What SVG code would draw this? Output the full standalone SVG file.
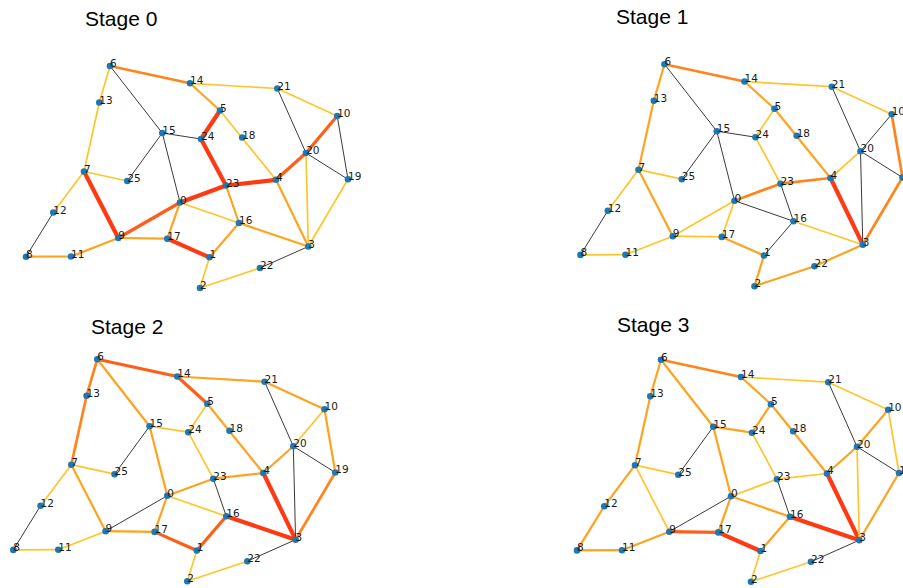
<svg xmlns="http://www.w3.org/2000/svg" width="903" height="588" viewBox="0 0 903 588">
<style>
.t{font-family:"Liberation Sans",Arial,sans-serif;font-size:21px;fill:#000}
.edges line{fill:none;stroke-linecap:butt}
.k{stroke:#3a3a3a;stroke-width:1}
.y{stroke:#ffc52a;stroke-width:1.7}
.o{stroke:#ffa31f;stroke-width:2.2}
.o2{stroke:#ff841c;stroke-width:2.7}
.r1{stroke:#ff5e18;stroke-width:3.2}
.r{stroke:#ff3a12;stroke-width:4.2}
.node circle{fill:#1f77b4}
.node text{font-family:"DejaVu Sans",sans-serif;font-size:10.5px;fill:#1a1a1a}
</style>
<rect width="903" height="588" fill="#fff"/>
<text class="t" x="85" y="25.5">Stage 0</text>
<text class="t" x="616" y="23.5">Stage 1</text>
<text class="t" x="91" y="334">Stage 2</text>
<text class="t" x="617" y="332">Stage 3</text>

<g id="stage0" transform="translate(0,0)">
<g id="s0-edges" class="edges">
<line class="o2" x1="110" y1="66" x2="190" y2="83.3"/>
<line class="y" x1="110" y1="66" x2="99.3" y2="102.5"/>
<line class="k" x1="110" y1="66" x2="162.3" y2="133"/>
<line class="y" x1="190" y1="83.3" x2="277.3" y2="88.5"/>
<line class="o" x1="190" y1="83.3" x2="220" y2="110.5"/>
<line class="y" x1="99.3" y1="102.5" x2="84" y2="171.5"/>
<line class="r" x1="220" y1="110.5" x2="201" y2="139"/>
<line class="y" x1="220" y1="110.5" x2="276" y2="179.8"/>
<line class="k" x1="162.3" y1="133" x2="201" y2="139"/>
<line class="k" x1="162.3" y1="133" x2="127.3" y2="181"/>
<line class="k" x1="162.3" y1="133" x2="180" y2="202.5"/>
<line class="r" x1="201" y1="139" x2="226" y2="185.5"/>
<line class="y" x1="84" y1="171.5" x2="127.3" y2="181"/>
<line class="y" x1="84" y1="171.5" x2="53.3" y2="212.5"/>
<line class="r" x1="84" y1="171.5" x2="118.3" y2="238"/>
<line class="k" x1="53.3" y1="212.5" x2="26" y2="256.7"/>
<line class="o" x1="26" y1="256.7" x2="71" y2="256.5"/>
<line class="o" x1="71" y1="256.5" x2="118.3" y2="238"/>
<line class="r1" x1="118.3" y1="238" x2="180" y2="202.5"/>
<line class="o" x1="118.3" y1="238" x2="167.3" y2="238.7"/>
<line class="r" x1="180" y1="202.5" x2="226" y2="185.5"/>
<line class="o" x1="180" y1="202.5" x2="167.3" y2="238.7"/>
<line class="y" x1="180" y1="202.5" x2="239" y2="223"/>
<line class="r" x1="167.3" y1="238.7" x2="209.5" y2="257.3"/>
<line class="y" x1="209.5" y1="257.3" x2="200" y2="288"/>
<line class="o" x1="209.5" y1="257.3" x2="239" y2="223"/>
<line class="y" x1="200" y1="288" x2="260" y2="268"/>
<line class="k" x1="260" y1="268" x2="308.3" y2="246.5"/>
<line class="o" x1="226" y1="185.5" x2="239" y2="223"/>
<line class="r" x1="226" y1="185.5" x2="276" y2="179.8"/>
<line class="r1" x1="276" y1="179.8" x2="306" y2="153"/>
<line class="o" x1="276" y1="179.8" x2="308.3" y2="246.5"/>
<line class="o" x1="239" y1="223" x2="308.3" y2="246.5"/>
<line class="k" x1="277.3" y1="88.5" x2="306" y2="153"/>
<line class="y" x1="277.3" y1="88.5" x2="337.2" y2="116"/>
<line class="r1" x1="306" y1="153" x2="337.2" y2="116"/>
<line class="k" x1="306" y1="153" x2="348" y2="179.3"/>
<line class="y" x1="306" y1="153" x2="308.3" y2="246.5"/>
<line class="k" x1="337.2" y1="116" x2="348" y2="179.3"/>
<line class="y" x1="348" y1="179.3" x2="308.3" y2="246.5"/>
</g>
<g id="s0-n0" class="node"><circle cx="180" cy="202.5" r="3.3"/><text x="180" y="203.5">0</text></g>
<g id="s0-n1" class="node"><circle cx="209.5" cy="257.3" r="3.3"/><text x="209.5" y="258.3">1</text></g>
<g id="s0-n2" class="node"><circle cx="200" cy="288" r="3.3"/><text x="200" y="289">2</text></g>
<g id="s0-n3" class="node"><circle cx="308.3" cy="246.5" r="3.3"/><text x="308.3" y="247.5">3</text></g>
<g id="s0-n4" class="node"><circle cx="276" cy="179.8" r="3.3"/><text x="276" y="180.8">4</text></g>
<g id="s0-n5" class="node"><circle cx="220" cy="110.5" r="3.3"/><text x="220" y="111.5">5</text></g>
<g id="s0-n6" class="node"><circle cx="110" cy="66" r="3.3"/><text x="110" y="67">6</text></g>
<g id="s0-n7" class="node"><circle cx="84" cy="171.5" r="3.3"/><text x="84" y="172.5">7</text></g>
<g id="s0-n8" class="node"><circle cx="26" cy="256.7" r="3.3"/><text x="26" y="257.7">8</text></g>
<g id="s0-n9" class="node"><circle cx="118.3" cy="238" r="3.3"/><text x="118.3" y="239">9</text></g>
<g id="s0-n10" class="node"><circle cx="337.2" cy="116" r="3.3"/><text x="337.2" y="117">10</text></g>
<g id="s0-n11" class="node"><circle cx="71" cy="256.5" r="3.3"/><text x="71" y="257.5">11</text></g>
<g id="s0-n12" class="node"><circle cx="53.3" cy="212.5" r="3.3"/><text x="53.3" y="213.5">12</text></g>
<g id="s0-n13" class="node"><circle cx="99.3" cy="102.5" r="3.3"/><text x="99.3" y="103.5">13</text></g>
<g id="s0-n14" class="node"><circle cx="190" cy="83.3" r="3.3"/><text x="190" y="84.3">14</text></g>
<g id="s0-n15" class="node"><circle cx="162.3" cy="133" r="3.3"/><text x="162.3" y="134">15</text></g>
<g id="s0-n16" class="node"><circle cx="239" cy="223" r="3.3"/><text x="239" y="224">16</text></g>
<g id="s0-n17" class="node"><circle cx="167.3" cy="238.7" r="3.3"/><text x="167.3" y="239.7">17</text></g>
<g id="s0-n18" class="node"><circle cx="242.2" cy="137.5" r="3.3"/><text x="242.2" y="138.5">18</text></g>
<g id="s0-n19" class="node"><circle cx="348" cy="179.3" r="3.3"/><text x="348" y="180.3">19</text></g>
<g id="s0-n20" class="node"><circle cx="306" cy="153" r="3.3"/><text x="306" y="154">20</text></g>
<g id="s0-n21" class="node"><circle cx="277.3" cy="88.5" r="3.3"/><text x="277.3" y="89.5">21</text></g>
<g id="s0-n22" class="node"><circle cx="260" cy="268" r="3.3"/><text x="260" y="269">22</text></g>
<g id="s0-n23" class="node"><circle cx="226" cy="185.5" r="3.3"/><text x="226" y="186.5">23</text></g>
<g id="s0-n24" class="node"><circle cx="201" cy="139" r="3.3"/><text x="201" y="140">24</text></g>
<g id="s0-n25" class="node"><circle cx="127.3" cy="181" r="3.3"/><text x="127.3" y="182">25</text></g>
</g>

<g id="stage1" transform="translate(554.5,-1.8)">
<g id="s1-edges" class="edges">
<line class="o2" x1="110" y1="66" x2="190" y2="83.3"/>
<line class="o" x1="110" y1="66" x2="99.3" y2="102.5"/>
<line class="k" x1="110" y1="66" x2="162.3" y2="133"/>
<line class="y" x1="190" y1="83.3" x2="277.3" y2="88.5"/>
<line class="o" x1="190" y1="83.3" x2="220" y2="110.5"/>
<line class="o" x1="99.3" y1="102.5" x2="84" y2="171.5"/>
<line class="y" x1="220" y1="110.5" x2="201" y2="139"/>
<line class="o" x1="220" y1="110.5" x2="276" y2="179.8"/>
<line class="k" x1="162.3" y1="133" x2="201" y2="139"/>
<line class="k" x1="162.3" y1="133" x2="127.3" y2="181"/>
<line class="k" x1="162.3" y1="133" x2="180" y2="202.5"/>
<line class="y" x1="201" y1="139" x2="226" y2="185.5"/>
<line class="y" x1="84" y1="171.5" x2="127.3" y2="181"/>
<line class="y" x1="84" y1="171.5" x2="53.3" y2="212.5"/>
<line class="o" x1="84" y1="171.5" x2="118.3" y2="238"/>
<line class="k" x1="53.3" y1="212.5" x2="26" y2="256.7"/>
<line class="y" x1="26" y1="256.7" x2="71" y2="256.5"/>
<line class="y" x1="71" y1="256.5" x2="118.3" y2="238"/>
<line class="y" x1="118.3" y1="238" x2="180" y2="202.5"/>
<line class="y" x1="118.3" y1="238" x2="167.3" y2="238.7"/>
<line class="o2" x1="180" y1="202.5" x2="226" y2="185.5"/>
<line class="y" x1="180" y1="202.5" x2="167.3" y2="238.7"/>
<line class="k" x1="180" y1="202.5" x2="239" y2="223"/>
<line class="o" x1="167.3" y1="238.7" x2="209.5" y2="257.3"/>
<line class="o" x1="209.5" y1="257.3" x2="200" y2="288"/>
<line class="k" x1="209.5" y1="257.3" x2="239" y2="223"/>
<line class="o" x1="200" y1="288" x2="260" y2="268"/>
<line class="o" x1="260" y1="268" x2="308.3" y2="246.5"/>
<line class="k" x1="226" y1="185.5" x2="239" y2="223"/>
<line class="o2" x1="226" y1="185.5" x2="276" y2="179.8"/>
<line class="y" x1="276" y1="179.8" x2="306" y2="153"/>
<line class="r" x1="276" y1="179.8" x2="308.3" y2="246.5"/>
<line class="y" x1="239" y1="223" x2="308.3" y2="246.5"/>
<line class="k" x1="277.3" y1="88.5" x2="306" y2="153"/>
<line class="y" x1="277.3" y1="88.5" x2="337.2" y2="116"/>
<line class="k" x1="306" y1="153" x2="337.2" y2="116"/>
<line class="k" x1="306" y1="153" x2="348" y2="179.3"/>
<line class="k" x1="306" y1="153" x2="308.3" y2="246.5"/>
<line class="o2" x1="337.2" y1="116" x2="348" y2="179.3"/>
<line class="o2" x1="348" y1="179.3" x2="308.3" y2="246.5"/>
</g>
<g id="s1-n0" class="node"><circle cx="180" cy="202.5" r="3.3"/><text x="180" y="203.5">0</text></g>
<g id="s1-n1" class="node"><circle cx="209.5" cy="257.3" r="3.3"/><text x="209.5" y="258.3">1</text></g>
<g id="s1-n2" class="node"><circle cx="200" cy="288" r="3.3"/><text x="200" y="289">2</text></g>
<g id="s1-n3" class="node"><circle cx="308.3" cy="246.5" r="3.3"/><text x="308.3" y="247.5">3</text></g>
<g id="s1-n4" class="node"><circle cx="276" cy="179.8" r="3.3"/><text x="276" y="180.8">4</text></g>
<g id="s1-n5" class="node"><circle cx="220" cy="110.5" r="3.3"/><text x="220" y="111.5">5</text></g>
<g id="s1-n6" class="node"><circle cx="110" cy="66" r="3.3"/><text x="110" y="67">6</text></g>
<g id="s1-n7" class="node"><circle cx="84" cy="171.5" r="3.3"/><text x="84" y="172.5">7</text></g>
<g id="s1-n8" class="node"><circle cx="26" cy="256.7" r="3.3"/><text x="26" y="257.7">8</text></g>
<g id="s1-n9" class="node"><circle cx="118.3" cy="238" r="3.3"/><text x="118.3" y="239">9</text></g>
<g id="s1-n10" class="node"><circle cx="337.2" cy="116" r="3.3"/><text x="337.2" y="117">10</text></g>
<g id="s1-n11" class="node"><circle cx="71" cy="256.5" r="3.3"/><text x="71" y="257.5">11</text></g>
<g id="s1-n12" class="node"><circle cx="53.3" cy="212.5" r="3.3"/><text x="53.3" y="213.5">12</text></g>
<g id="s1-n13" class="node"><circle cx="99.3" cy="102.5" r="3.3"/><text x="99.3" y="103.5">13</text></g>
<g id="s1-n14" class="node"><circle cx="190" cy="83.3" r="3.3"/><text x="190" y="84.3">14</text></g>
<g id="s1-n15" class="node"><circle cx="162.3" cy="133" r="3.3"/><text x="162.3" y="134">15</text></g>
<g id="s1-n16" class="node"><circle cx="239" cy="223" r="3.3"/><text x="239" y="224">16</text></g>
<g id="s1-n17" class="node"><circle cx="167.3" cy="238.7" r="3.3"/><text x="167.3" y="239.7">17</text></g>
<g id="s1-n18" class="node"><circle cx="242.2" cy="137.5" r="3.3"/><text x="242.2" y="138.5">18</text></g>
<g id="s1-n19" class="node"><circle cx="348" cy="179.3" r="3.3"/><text x="348" y="180.3">19</text></g>
<g id="s1-n20" class="node"><circle cx="306" cy="153" r="3.3"/><text x="306" y="154">20</text></g>
<g id="s1-n21" class="node"><circle cx="277.3" cy="88.5" r="3.3"/><text x="277.3" y="89.5">21</text></g>
<g id="s1-n22" class="node"><circle cx="260" cy="268" r="3.3"/><text x="260" y="269">22</text></g>
<g id="s1-n23" class="node"><circle cx="226" cy="185.5" r="3.3"/><text x="226" y="186.5">23</text></g>
<g id="s1-n24" class="node"><circle cx="201" cy="139" r="3.3"/><text x="201" y="140">24</text></g>
<g id="s1-n25" class="node"><circle cx="127.3" cy="181" r="3.3"/><text x="127.3" y="182">25</text></g>
</g>

<g id="stage2" transform="translate(-12.7,293.2)">
<g id="s2-edges" class="edges">
<line class="r1" x1="110" y1="66" x2="190" y2="83.3"/>
<line class="o2" x1="110" y1="66" x2="99.3" y2="102.5"/>
<line class="o" x1="110" y1="66" x2="162.3" y2="133"/>
<line class="o" x1="190" y1="83.3" x2="277.3" y2="88.5"/>
<line class="r1" x1="190" y1="83.3" x2="220" y2="110.5"/>
<line class="o2" x1="99.3" y1="102.5" x2="84" y2="171.5"/>
<line class="y" x1="220" y1="110.5" x2="201" y2="139"/>
<line class="o" x1="220" y1="110.5" x2="276" y2="179.8"/>
<line class="y" x1="162.3" y1="133" x2="201" y2="139"/>
<line class="k" x1="162.3" y1="133" x2="127.3" y2="181"/>
<line class="o" x1="162.3" y1="133" x2="180" y2="202.5"/>
<line class="y" x1="201" y1="139" x2="226" y2="185.5"/>
<line class="y" x1="84" y1="171.5" x2="127.3" y2="181"/>
<line class="y" x1="84" y1="171.5" x2="53.3" y2="212.5"/>
<line class="o" x1="84" y1="171.5" x2="118.3" y2="238"/>
<line class="k" x1="53.3" y1="212.5" x2="26" y2="256.7"/>
<line class="y" x1="26" y1="256.7" x2="71" y2="256.5"/>
<line class="y" x1="71" y1="256.5" x2="118.3" y2="238"/>
<line class="k" x1="118.3" y1="238" x2="180" y2="202.5"/>
<line class="o" x1="118.3" y1="238" x2="167.3" y2="238.7"/>
<line class="o" x1="180" y1="202.5" x2="226" y2="185.5"/>
<line class="o" x1="180" y1="202.5" x2="167.3" y2="238.7"/>
<line class="y" x1="180" y1="202.5" x2="239" y2="223"/>
<line class="r1" x1="167.3" y1="238.7" x2="209.5" y2="257.3"/>
<line class="y" x1="209.5" y1="257.3" x2="200" y2="288"/>
<line class="r1" x1="209.5" y1="257.3" x2="239" y2="223"/>
<line class="y" x1="200" y1="288" x2="260" y2="268"/>
<line class="k" x1="260" y1="268" x2="308.3" y2="246.5"/>
<line class="k" x1="226" y1="185.5" x2="239" y2="223"/>
<line class="o" x1="226" y1="185.5" x2="276" y2="179.8"/>
<line class="o" x1="276" y1="179.8" x2="306" y2="153"/>
<line class="r" x1="276" y1="179.8" x2="308.3" y2="246.5"/>
<line class="r" x1="239" y1="223" x2="308.3" y2="246.5"/>
<line class="k" x1="277.3" y1="88.5" x2="306" y2="153"/>
<line class="o" x1="277.3" y1="88.5" x2="337.2" y2="116"/>
<line class="y" x1="306" y1="153" x2="337.2" y2="116"/>
<line class="k" x1="306" y1="153" x2="348" y2="179.3"/>
<line class="k" x1="306" y1="153" x2="308.3" y2="246.5"/>
<line class="o" x1="337.2" y1="116" x2="348" y2="179.3"/>
<line class="o2" x1="348" y1="179.3" x2="308.3" y2="246.5"/>
</g>
<g id="s2-n0" class="node"><circle cx="180" cy="202.5" r="3.3"/><text x="180" y="203.5">0</text></g>
<g id="s2-n1" class="node"><circle cx="209.5" cy="257.3" r="3.3"/><text x="209.5" y="258.3">1</text></g>
<g id="s2-n2" class="node"><circle cx="200" cy="288" r="3.3"/><text x="200" y="289">2</text></g>
<g id="s2-n3" class="node"><circle cx="308.3" cy="246.5" r="3.3"/><text x="308.3" y="247.5">3</text></g>
<g id="s2-n4" class="node"><circle cx="276" cy="179.8" r="3.3"/><text x="276" y="180.8">4</text></g>
<g id="s2-n5" class="node"><circle cx="220" cy="110.5" r="3.3"/><text x="220" y="111.5">5</text></g>
<g id="s2-n6" class="node"><circle cx="110" cy="66" r="3.3"/><text x="110" y="67">6</text></g>
<g id="s2-n7" class="node"><circle cx="84" cy="171.5" r="3.3"/><text x="84" y="172.5">7</text></g>
<g id="s2-n8" class="node"><circle cx="26" cy="256.7" r="3.3"/><text x="26" y="257.7">8</text></g>
<g id="s2-n9" class="node"><circle cx="118.3" cy="238" r="3.3"/><text x="118.3" y="239">9</text></g>
<g id="s2-n10" class="node"><circle cx="337.2" cy="116" r="3.3"/><text x="337.2" y="117">10</text></g>
<g id="s2-n11" class="node"><circle cx="71" cy="256.5" r="3.3"/><text x="71" y="257.5">11</text></g>
<g id="s2-n12" class="node"><circle cx="53.3" cy="212.5" r="3.3"/><text x="53.3" y="213.5">12</text></g>
<g id="s2-n13" class="node"><circle cx="99.3" cy="102.5" r="3.3"/><text x="99.3" y="103.5">13</text></g>
<g id="s2-n14" class="node"><circle cx="190" cy="83.3" r="3.3"/><text x="190" y="84.3">14</text></g>
<g id="s2-n15" class="node"><circle cx="162.3" cy="133" r="3.3"/><text x="162.3" y="134">15</text></g>
<g id="s2-n16" class="node"><circle cx="239" cy="223" r="3.3"/><text x="239" y="224">16</text></g>
<g id="s2-n17" class="node"><circle cx="167.3" cy="238.7" r="3.3"/><text x="167.3" y="239.7">17</text></g>
<g id="s2-n18" class="node"><circle cx="242.2" cy="137.5" r="3.3"/><text x="242.2" y="138.5">18</text></g>
<g id="s2-n19" class="node"><circle cx="348" cy="179.3" r="3.3"/><text x="348" y="180.3">19</text></g>
<g id="s2-n20" class="node"><circle cx="306" cy="153" r="3.3"/><text x="306" y="154">20</text></g>
<g id="s2-n21" class="node"><circle cx="277.3" cy="88.5" r="3.3"/><text x="277.3" y="89.5">21</text></g>
<g id="s2-n22" class="node"><circle cx="260" cy="268" r="3.3"/><text x="260" y="269">22</text></g>
<g id="s2-n23" class="node"><circle cx="226" cy="185.5" r="3.3"/><text x="226" y="186.5">23</text></g>
<g id="s2-n24" class="node"><circle cx="201" cy="139" r="3.3"/><text x="201" y="140">24</text></g>
<g id="s2-n25" class="node"><circle cx="127.3" cy="181" r="3.3"/><text x="127.3" y="182">25</text></g>
</g>

<g id="stage3" transform="translate(551,293.7)">
<g id="s3-edges" class="edges">
<line class="o2" x1="110" y1="66" x2="190" y2="83.3"/>
<line class="o" x1="110" y1="66" x2="99.3" y2="102.5"/>
<line class="o" x1="110" y1="66" x2="162.3" y2="133"/>
<line class="y" x1="190" y1="83.3" x2="277.3" y2="88.5"/>
<line class="o" x1="190" y1="83.3" x2="220" y2="110.5"/>
<line class="o" x1="99.3" y1="102.5" x2="84" y2="171.5"/>
<line class="o" x1="220" y1="110.5" x2="201" y2="139"/>
<line class="o" x1="220" y1="110.5" x2="276" y2="179.8"/>
<line class="o" x1="162.3" y1="133" x2="201" y2="139"/>
<line class="k" x1="162.3" y1="133" x2="127.3" y2="181"/>
<line class="o" x1="162.3" y1="133" x2="180" y2="202.5"/>
<line class="y" x1="201" y1="139" x2="226" y2="185.5"/>
<line class="y" x1="84" y1="171.5" x2="127.3" y2="181"/>
<line class="o" x1="84" y1="171.5" x2="53.3" y2="212.5"/>
<line class="y" x1="84" y1="171.5" x2="118.3" y2="238"/>
<line class="o" x1="53.3" y1="212.5" x2="26" y2="256.7"/>
<line class="o" x1="26" y1="256.7" x2="71" y2="256.5"/>
<line class="o" x1="71" y1="256.5" x2="118.3" y2="238"/>
<line class="k" x1="118.3" y1="238" x2="180" y2="202.5"/>
<line class="r1" x1="118.3" y1="238" x2="167.3" y2="238.7"/>
<line class="y" x1="180" y1="202.5" x2="226" y2="185.5"/>
<line class="o" x1="180" y1="202.5" x2="167.3" y2="238.7"/>
<line class="o" x1="180" y1="202.5" x2="239" y2="223"/>
<line class="r" x1="167.3" y1="238.7" x2="209.5" y2="257.3"/>
<line class="y" x1="209.5" y1="257.3" x2="200" y2="288"/>
<line class="o" x1="209.5" y1="257.3" x2="239" y2="223"/>
<line class="y" x1="200" y1="288" x2="260" y2="268"/>
<line class="k" x1="260" y1="268" x2="308.3" y2="246.5"/>
<line class="k" x1="226" y1="185.5" x2="239" y2="223"/>
<line class="y" x1="226" y1="185.5" x2="276" y2="179.8"/>
<line class="o" x1="276" y1="179.8" x2="306" y2="153"/>
<line class="r" x1="276" y1="179.8" x2="308.3" y2="246.5"/>
<line class="r" x1="239" y1="223" x2="308.3" y2="246.5"/>
<line class="k" x1="277.3" y1="88.5" x2="306" y2="153"/>
<line class="y" x1="277.3" y1="88.5" x2="337.2" y2="116"/>
<line class="o" x1="306" y1="153" x2="337.2" y2="116"/>
<line class="k" x1="306" y1="153" x2="348" y2="179.3"/>
<line class="y" x1="306" y1="153" x2="308.3" y2="246.5"/>
<line class="y" x1="337.2" y1="116" x2="348" y2="179.3"/>
<line class="o" x1="348" y1="179.3" x2="308.3" y2="246.5"/>
</g>
<g id="s3-n0" class="node"><circle cx="180" cy="202.5" r="3.3"/><text x="180" y="203.5">0</text></g>
<g id="s3-n1" class="node"><circle cx="209.5" cy="257.3" r="3.3"/><text x="209.5" y="258.3">1</text></g>
<g id="s3-n2" class="node"><circle cx="200" cy="288" r="3.3"/><text x="200" y="289">2</text></g>
<g id="s3-n3" class="node"><circle cx="308.3" cy="246.5" r="3.3"/><text x="308.3" y="247.5">3</text></g>
<g id="s3-n4" class="node"><circle cx="276" cy="179.8" r="3.3"/><text x="276" y="180.8">4</text></g>
<g id="s3-n5" class="node"><circle cx="220" cy="110.5" r="3.3"/><text x="220" y="111.5">5</text></g>
<g id="s3-n6" class="node"><circle cx="110" cy="66" r="3.3"/><text x="110" y="67">6</text></g>
<g id="s3-n7" class="node"><circle cx="84" cy="171.5" r="3.3"/><text x="84" y="172.5">7</text></g>
<g id="s3-n8" class="node"><circle cx="26" cy="256.7" r="3.3"/><text x="26" y="257.7">8</text></g>
<g id="s3-n9" class="node"><circle cx="118.3" cy="238" r="3.3"/><text x="118.3" y="239">9</text></g>
<g id="s3-n10" class="node"><circle cx="337.2" cy="116" r="3.3"/><text x="337.2" y="117">10</text></g>
<g id="s3-n11" class="node"><circle cx="71" cy="256.5" r="3.3"/><text x="71" y="257.5">11</text></g>
<g id="s3-n12" class="node"><circle cx="53.3" cy="212.5" r="3.3"/><text x="53.3" y="213.5">12</text></g>
<g id="s3-n13" class="node"><circle cx="99.3" cy="102.5" r="3.3"/><text x="99.3" y="103.5">13</text></g>
<g id="s3-n14" class="node"><circle cx="190" cy="83.3" r="3.3"/><text x="190" y="84.3">14</text></g>
<g id="s3-n15" class="node"><circle cx="162.3" cy="133" r="3.3"/><text x="162.3" y="134">15</text></g>
<g id="s3-n16" class="node"><circle cx="239" cy="223" r="3.3"/><text x="239" y="224">16</text></g>
<g id="s3-n17" class="node"><circle cx="167.3" cy="238.7" r="3.3"/><text x="167.3" y="239.7">17</text></g>
<g id="s3-n18" class="node"><circle cx="242.2" cy="137.5" r="3.3"/><text x="242.2" y="138.5">18</text></g>
<g id="s3-n19" class="node"><circle cx="348" cy="179.3" r="3.3"/><text x="348" y="180.3">19</text></g>
<g id="s3-n20" class="node"><circle cx="306" cy="153" r="3.3"/><text x="306" y="154">20</text></g>
<g id="s3-n21" class="node"><circle cx="277.3" cy="88.5" r="3.3"/><text x="277.3" y="89.5">21</text></g>
<g id="s3-n22" class="node"><circle cx="260" cy="268" r="3.3"/><text x="260" y="269">22</text></g>
<g id="s3-n23" class="node"><circle cx="226" cy="185.5" r="3.3"/><text x="226" y="186.5">23</text></g>
<g id="s3-n24" class="node"><circle cx="201" cy="139" r="3.3"/><text x="201" y="140">24</text></g>
<g id="s3-n25" class="node"><circle cx="127.3" cy="181" r="3.3"/><text x="127.3" y="182">25</text></g>
</g>
</svg>
